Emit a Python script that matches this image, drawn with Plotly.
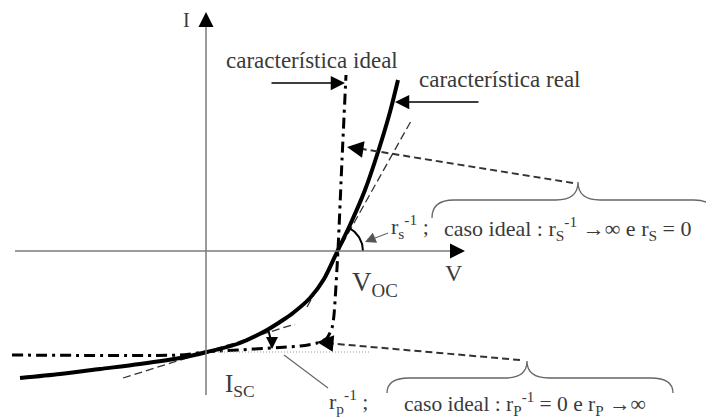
import numpy as np
import plotly.graph_objects as go

# ---- data (diagram units, origin at the V/I axis crossing) ----
real_V = [-186, -146, -106, -66, -26, 1, 34, 61, 77, 87, 104, 118, 131, 144, 159, 172, 184, 192]
real_I = [-127, -123, -118, -113, -107, -101, -92, -79, -69, -62, -47, -28, -1, 26, 61, 99, 139, 171]
ideal_V = [-194, -26, 0, 94, 111, 121, 126, 128, 132, 136, 140]
ideal_I = [-104, -104, -101, -95, -92, -87, -77, -64, 1, 91, 176]
rs_tan_V = [101, 205]
rs_tan_I = [-56, 130]
rp_tan_V = [-83, 89]
rp_tan_I = [-127, -73]
V_OC = 131
I_SC = -101

SERIF = "Liberation Serif, Times New Roman, serif"
TXT = "#3a3a3a"
AX = "#7a7a7a"

fig = go.Figure()

# ideal characteristic (dash-dot)
fig.add_trace(go.Scatter(x=ideal_V, y=ideal_I, mode="lines",
                         line=dict(color="black", width=3, dash="11px,5px,3px,5px", shape="spline", smoothing=0.6)))
# I_SC dotted level line
fig.add_trace(go.Scatter(x=[0, 164], y=[I_SC, I_SC], mode="lines",
                         line=dict(color="#999999", width=1.2, dash="1px,2px")))
# tangents
fig.add_trace(go.Scatter(x=rs_tan_V, y=rs_tan_I, mode="lines",
                         line=dict(color="#333333", width=1.3, dash="8px,4px")))
fig.add_trace(go.Scatter(x=rp_tan_V, y=rp_tan_I, mode="lines",
                         line=dict(color="#333333", width=1.3, dash="8px,4px")))
# real characteristic
fig.add_trace(go.Scatter(x=real_V, y=real_I, mode="lines",
                         line=dict(color="black", width=4, shape="spline", smoothing=0.8)))

# angle arcs
a = np.radians(np.linspace(0, 60, 30))
fig.add_trace(go.Scatter(x=V_OC + 26 * np.cos(a), y=26 * np.sin(a), mode="lines",
                         line=dict(color="black", width=2)))
a2 = np.radians(np.linspace(19, 4, 30))
fig.add_trace(go.Scatter(x=66 * np.cos(a2), y=I_SC + 66 * np.sin(a2), mode="lines",
                         line=dict(color="black", width=2)))

shapes = []
# axes (gray lines)
shapes.append(dict(type="line", x0=0, y0=-144, x1=0, y1=232, line=dict(color=AX, width=1.5)))
shapes.append(dict(type="line", x0=-191, y0=0, x1=250, y1=0, line=dict(color=AX, width=1.5)))
# dashed pointers
shapes.append(dict(type="line", x0=367, y0=68, x1=150, y1=103, line=dict(color="#333333", width=2, dash="7px,4px")))
shapes.append(dict(type="line", x0=314, y0=-109, x1=120, y1=-92, line=dict(color="#333333", width=2, dash="7px,4px")))
# thin pointers
shapes.append(dict(type="line", x0=182, y0=18, x1=164, y1=11, line=dict(color="#666666", width=1.2)))
shapes.append(dict(type="line", x0=122, y0=-137, x1=78, y1=-104, line=dict(color="#666666", width=1.2)))


def brace(x0, x1, yl, ye, xt, yt, r=22, r2=22):
    return (f"M{x0},{ye} Q{x0},{yl} {x0 + r},{yl} L{xt - r2},{yl} "
            f"Q{xt},{yl} {xt},{yt} Q{xt},{yl} {xt + r2},{yl} L{x1 - r},{yl} Q{x1},{yl} {x1},{ye}")


shapes.append(dict(type="path", path=brace(226, 510, 51, 33, 372, 69),
                   line=dict(color="#666666", width=1.3)))
shapes.append(dict(type="path", path=brace(181, 467, -127, -142, 321, -110),
                   line=dict(color="#666666", width=1.3)))

anns = []


def arrow(x, y, ax, ay, color="black", w=1.5, size=2.0, head=2):
    anns.append(dict(x=x, y=y, ax=ax, ay=ay, xref="x", yref="y", axref="x", ayref="y",
                     text="", showarrow=True, arrowhead=head, arrowsize=size,
                     arrowwidth=w, arrowcolor=color))


# axis arrowheads
arrow(0, 239, 0, 228, size=2.0)
arrow(259, 0, 248, 0, size=2.0)
# label arrows
arrow(139, 168, 64, 168, w=1.5, size=1.9)
arrow(189, 149, 274, 149, w=1.5, size=1.9)
# dashed pointer heads
arrow(141, 104, 152, 102.3, w=1.5, size=2.2)
arrow(111, -91, 122, -92, w=1.5, size=2.2)
# thin pointer head for r_s
arrow(159, 9, 166, 12, color="#555555", w=1.2, size=1.8)
# rp arc arrowhead
arrow(66, I_SC + 3, 66, I_SC + 9, w=1.5, size=1.6)


def text(x, y, s, size=18, xanchor="center"):
    anns.append(dict(x=x, y=y, xref="x", yref="y", text=s, showarrow=False, xanchor=xanchor,
                     font=dict(family=SERIF, size=size, color=TXT)))


text(-20, 231, "I", 20)
text(248, -22, "V", 24)
text(169, -33, "V<sub>OC</sub>", 27)
text(34, -134, "I<sub>SC</sub>", 25)
text(106, 191, "característica ideal", 23)
text(211, 172, "característica real", 23, xanchor="left")
text(183, 25, "r<sub>s</sub><sup>-1</sup> ;", 22, xanchor="left")
text(236, 23, "caso ideal : r<sub>S</sub><sup>-1</sup> →∞ e r<sub>S</sub> = 0", 22, xanchor="left")
text(121, -150, "r<sub>p</sub><sup>-1</sup> ;", 22, xanchor="left")
text(196, -153, "caso ideal : r<sub>P</sub><sup>-1</sup> = 0 e r<sub>P</sub> →∞", 21.5, xanchor="left")

# ranges offset by 8 px to compensate for the page's default body margin
fig.update_layout(
    width=714, height=419, margin=dict(l=0, r=0, t=0, b=0),
    paper_bgcolor="white", plot_bgcolor="white", showlegend=False,
    xaxis=dict(range=[-198, 516], visible=False, fixedrange=True),
    yaxis=dict(range=[-176, 243], visible=False, fixedrange=True),
    shapes=shapes, annotations=anns,
)

fig.write_html("out.html")
